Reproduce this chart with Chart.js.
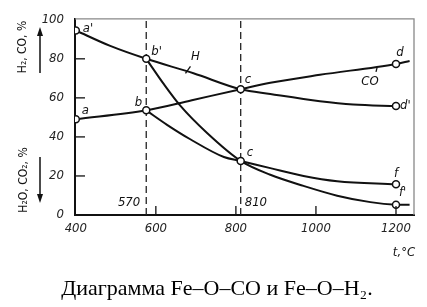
<!DOCTYPE html>
<html>
<head>
<meta charset="utf-8">
<script src="https://cdn.jsdelivr.net/npm/chart.js@4"></script>
<style>
  html, body { margin: 0; padding: 0; background: #fff; }
</style>
</head>
<body>
<canvas id="diagram" width="427" height="307"></canvas>
<script>
// Fe–O–CO / Fe–O–H2 equilibrium diagram
const xTicks = [400, 600, 800, 1000, 1200];
const yTicks = [0, 20, 40, 60, 80, 100];
const dividers = [576, 812];
const dividerLabels = ['570', '810'];

// CO line a - b - c - d
const coT = [400, 576, 690, 812, 886, 1010, 1200, 1234];
const coV = [49, 53.6, 58.8, 64.4, 67.7, 71.8, 77.4, 78.9];
// H2 line a' - b' - c - d'
const hT = [400, 486, 576, 694, 812, 886, 1010, 1093, 1200];
const hV = [94.5, 86.6, 80, 72.6, 64.4, 62, 58.3, 56.6, 55.8];
// b - c - f
const fT = [576, 628, 686, 770, 812, 886, 969, 1053, 1200];
const fV = [53.6, 46.2, 38.8, 29.7, 27.7, 24, 20, 17.3, 15.7];
// b' - c - f'
const fpT = [576, 620, 661, 728, 812, 886, 969, 1053, 1136, 1200, 1234];
const fpV = [80, 67, 56, 42, 27.7, 20.6, 14.9, 9.9, 6.6, 5.3, 5.2];

// marked points
const keyNames = ['a', "a'", 'b', "b'", 'c', 'c', 'd', "d'", 'f', "f'"];
const keyT = [400, 400, 576, 576, 812, 812, 1200, 1200, 1200, 1200];
const keyV = [49, 94.5, 53.6, 80, 64.4, 27.7, 77.4, 55.8, 15.7, 5.3];

const INK = '#111';
const NARROW = "'Liberation Sans Narrow', 'DejaVu Sans Condensed', 'Roboto Condensed', sans-serif";

const pts = (xs, ys) => xs.map((x, i) => ({ x: x, y: ys[i] }));

function curve(xs, ys) {
    return {
        data: pts(xs, ys), showLine: true, borderColor: INK, borderWidth: 2,
        pointRadius: 0, cubicInterpolationMode: 'monotone', fill: false
    };
}

const dividerSets = dividers.map(t => ({
    data: [{ x: t, y: 0 }, { x: t, y: 100.5 }], showLine: true,
    borderColor: '#222', borderWidth: 1.3, borderDash: [7, 4], pointRadius: 0
}));

// label offsets for each marked point: [dx, dy, align]
const labelPos = [
    [6, -9, 'left'], [7, -2, 'left'], [-4, -8, 'right'], [5, -7, 'left'], [4, -10, 'left'],
    [6, -8, 'left'], [4, -11, 'center'], [4, 0, 'left'], [0, -11, 'center'], [3, -12, 'left']
];

function arrow(ctx, x, y0, y1) {
    const dir = Math.sign(y1 - y0);
    ctx.beginPath(); ctx.moveTo(x, y0); ctx.lineTo(x, y1 - dir * 6); ctx.stroke();
    ctx.beginPath(); ctx.moveTo(x, y1); ctx.lineTo(x - 3, y1 - dir * 9); ctx.lineTo(x + 3, y1 - dir * 9); ctx.closePath(); ctx.fill();
}

const decor = {
    id: 'decor',
    afterDraw(chart) {
        const { ctx, chartArea: a, scales: { x, y } } = chart;
        ctx.save();
        ctx.strokeStyle = '#888'; ctx.lineWidth = 1.3;
        ctx.beginPath(); ctx.moveTo(a.left, a.top); ctx.lineTo(a.right, a.top); ctx.lineTo(a.right, a.bottom); ctx.stroke();

        // inner ticks
        ctx.strokeStyle = INK; ctx.lineWidth = 1.3;
        yTicks.slice(1, -1).forEach(v => {
            const py = y.getPixelForValue(v);
            ctx.beginPath(); ctx.moveTo(a.left, py); ctx.lineTo(a.left + 10, py); ctx.stroke();
        });
        xTicks.slice(1).forEach(v => {
            const px = x.getPixelForValue(v);
            ctx.beginPath(); ctx.moveTo(px, a.bottom); ctx.lineTo(px, a.bottom - 9); ctx.stroke();
        });

        ctx.fillStyle = INK;
        ctx.font = 'italic 13px ' + NARROW;
        ctx.textBaseline = 'middle';
        keyNames.forEach((n, i) => {
            const [dx, dy, al] = labelPos[i];
            ctx.textAlign = al;
            ctx.fillText(n, x.getPixelForValue(keyT[i]) + dx, y.getPixelForValue(keyV[i]) + dy);
        });

        // curve names with leaders
        const hx = x.getPixelForValue(hT[3]) - 6, hy = y.getPixelForValue(hV[3]) - 2;
        ctx.beginPath(); ctx.moveTo(hx - 2, hy + 2); ctx.lineTo(hx + 3, hy - 5); ctx.stroke();
        ctx.textAlign = 'center'; ctx.fillText('H', hx + 8, hy - 15);
        const cx = x.getPixelForValue(coT[6]) - 20, cy = y.getPixelForValue(coV[6]) + 4;
        ctx.beginPath(); ctx.moveTo(cx + 1, cy); ctx.lineTo(cx, cy + 4); ctx.stroke();
        ctx.fillText('CO', cx - 6, cy + 14);

        ctx.textAlign = 'right';
        ctx.fillText(dividerLabels[0], x.getPixelForValue(dividers[0]) - 6, 203);
        ctx.textAlign = 'left';
        ctx.fillText(dividerLabels[1], x.getPixelForValue(dividers[1]) + 4, 203);

        ctx.textAlign = 'center';
        ctx.fillText('t,°C', 404, 253);

        // vertical axis titles
        ctx.font = '12px ' + NARROW;
        ctx.save(); ctx.translate(23, 47); ctx.rotate(-Math.PI / 2); ctx.fillText('H₂, CO, %', 0, 0); ctx.restore();
        ctx.save(); ctx.translate(24, 180); ctx.rotate(-Math.PI / 2); ctx.fillText('H₂O, CO₂, %', 0, 0); ctx.restore();
        ctx.lineWidth = 1.5;
        arrow(ctx, 40, 73, 27);
        arrow(ctx, 40, 157, 203);

        ctx.fillStyle = '#000';
        ctx.font = "22px 'Liberation Serif', 'Times New Roman', serif";
        ctx.textBaseline = 'alphabetic';
        ctx.fillText('Диаграмма Fe–O–CO и Fe–O–H₂.', 217, 295);
        ctx.restore();
    }
};

const tickFont = { family: NARROW, size: 13, style: 'italic' };

new Chart(document.getElementById('diagram'), {
    type: 'scatter',
    data: {
        datasets: [
            {
                data: pts(keyT, keyV), pointRadius: 3.5, pointBackgroundColor: '#fff',
                pointBorderColor: INK, pointBorderWidth: 1.5
            },
            curve(coT, coV), curve(hT, hV), curve(fT, fV), curve(fpT, fpV),
            ...dividerSets
        ]
    },
    options: {
        responsive: false, animation: false, devicePixelRatio: 1,
        layout: { padding: { top: 12, right: 13, left: 0, bottom: 0 } },
        plugins: { legend: { display: false }, tooltip: { enabled: false } },
        scales: {
            x: {
                type: 'linear', min: 398, max: 1245,
                afterBuildTicks: s => { s.ticks = xTicks.map(v => ({ value: v })); },
                afterFit: s => { s.height = 92; },
                grid: { display: false, drawTicks: false },
                border: { color: INK, width: 2 },
                ticks: { padding: 6, color: '#222', font: tickFont, maxRotation: 0, autoSkip: false, callback: v => String(v) }
            },
            y: {
                min: 0, max: 100.5,
                afterBuildTicks: s => { s.ticks = yTicks.map(v => ({ value: v })); },
                afterFit: s => { s.width = 75; },
                grid: { display: false, drawTicks: false },
                border: { color: INK, width: 2 },
                ticks: { padding: 11, color: '#222', font: tickFont, callback: v => String(v) }
            }
        }
    },
    plugins: [decor]
});
</script>
</body>
</html>
